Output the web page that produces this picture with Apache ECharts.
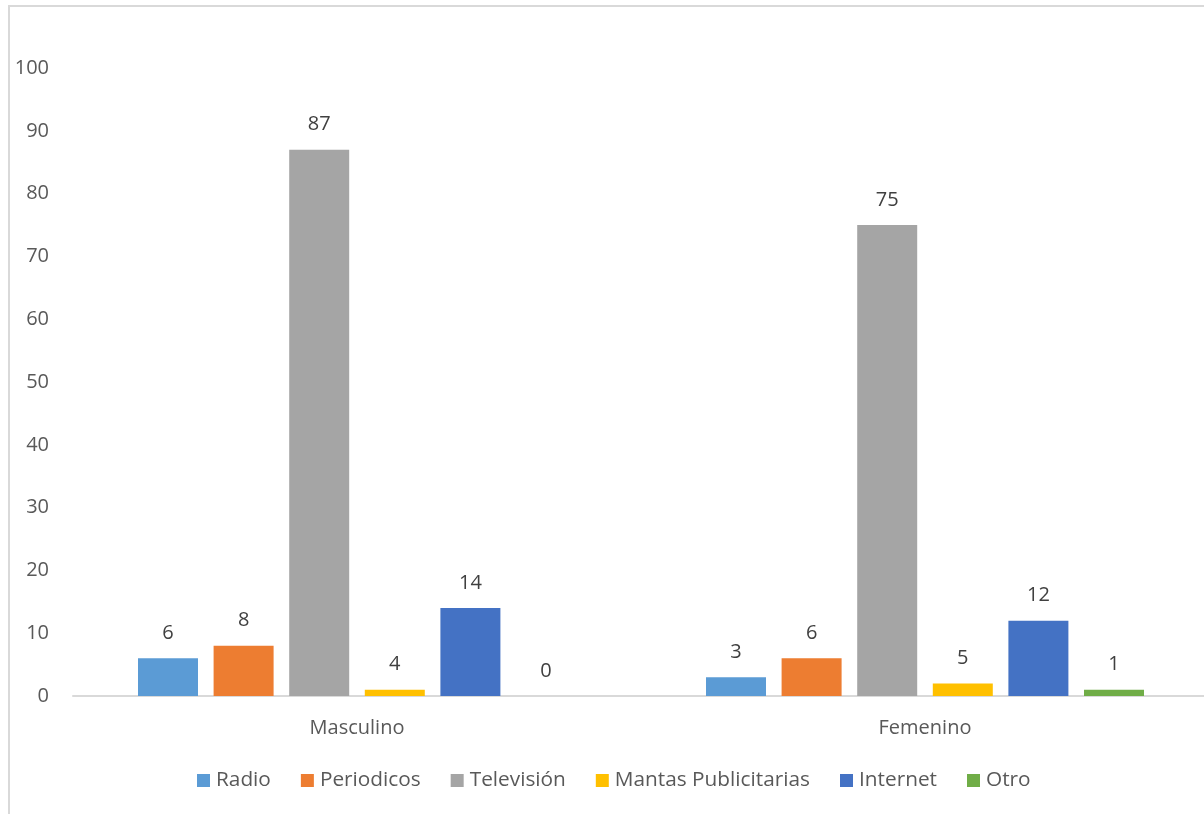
<!DOCTYPE html>
<html>
<head>
<meta charset="utf-8">
<script src="https://cdn.jsdelivr.net/npm/echarts@6/dist/echarts.min.js"></script>
<style>
html,body{margin:0;padding:0;background:#fff;overflow:hidden;width:1204px;height:814px;}
#chart{width:1220px;height:814px;}
</style>
</head>
<body>
<div id="chart"></div>
<script>
// ---- data ----
const categories = ['Masculino', 'Femenino'];
const seriesNames = ['Radio', 'Periodicos', 'Televisión', 'Mantas Publicitarias', 'Internet', 'Otro'];
const radioValues = [6, 3];
const periodicosValues = [8, 6];
const televisionValues = [87, 75];
const mantasValues = [1, 2];          // drawn bar heights
const internetValues = [14, 12];
const otroValues = [0, 1];
// printed data labels (differ from bar heights for Mantas Publicitarias)
const radioLabels = [6, 3];
const periodicosLabels = [8, 6];
const televisionLabels = [87, 75];
const mantasLabels = [4, 5];
const internetLabels = [14, 12];
const otroLabels = [0, 1];
const yTicks = [0, 10, 20, 30, 40, 50, 60, 70, 80, 90, 100];

const colors = ['#5B9BD5', '#ED7D31', '#A5A5A5', '#FFC000', '#4472C4', '#70AD47'];
const valueSets = [radioValues, periodicosValues, televisionValues, mantasValues, internetValues, otroValues];
const labelSets = [radioLabels, periodicosLabels, televisionLabels, mantasLabels, internetLabels, otroLabels];

const FONT = 'Open Sans';
const chart = echarts.init(document.getElementById('chart'), null, {renderer: 'canvas'});

const series = seriesNames.map((name, i) => ({
  name: name,
  type: 'bar',
  data: valueSets[i],
  barWidth: 60,
  barGap: '26%',
  itemStyle: {color: colors[i]},
  label: {
    show: true,
    position: 'top',
    distance: 15,
    color: '#404040',
    fontSize: 20,
    fontFamily: FONT,
    formatter: (p) => String(labelSets[i][p.dataIndex])
  }
}));

chart.setOption({
  animation: false,
  color: colors,
  textStyle: {fontFamily: FONT},
  graphic: [{
    type: 'rect',
    shape: {x: 9, y: 6, width: 1400, height: 1000},
    style: {fill: 'none', stroke: '#d9d9d9', lineWidth: 2},
    silent: true,
    z: -10
  }],
  grid: {left: 73, top: 68, width: 1136, height: 628, containLabel: false},
  legend: {
    data: seriesNames,
    left: 192,
    top: 765,
    icon: 'rect',
    itemWidth: 13,
    itemHeight: 13,
    itemGap: 30,
    textStyle: {color: '#595959', fontSize: 20.8, fontFamily: FONT, padding: [0, 0, 0, 1]}
  },
  xAxis: {
    type: 'category',
    data: categories,
    axisTick: {show: false},
    axisLine: {lineStyle: {color: '#d9d9d9', width: 2}},
    axisLabel: {color: '#595959', fontSize: 20, fontFamily: FONT, margin: 22}
  },
  yAxis: {
    type: 'value',
    min: yTicks[0],
    max: yTicks[yTicks.length - 1],
    interval: yTicks[1] - yTicks[0],
    splitLine: {show: false},
    axisLine: {show: false},
    axisTick: {show: false},
    axisLabel: {color: '#595959', fontSize: 20, fontFamily: FONT, margin: 24}
  },
  series: series
});
</script>
</body>
</html>
